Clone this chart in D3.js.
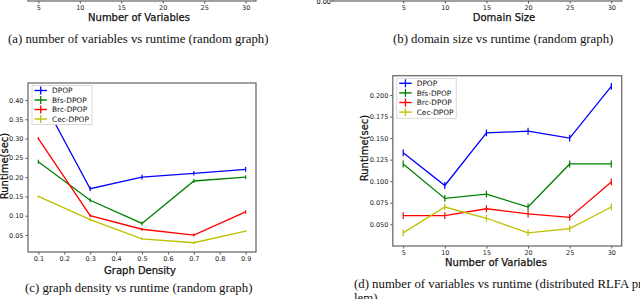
<!DOCTYPE html>
<html>
<head>
<meta charset="utf-8">
<script src="https://cdn.jsdelivr.net/npm/d3@7"></script>
<style>
  body { margin: 0; background: #fff; }
  svg { display: block; }
  .tick text { font-family: "DejaVu Sans", sans-serif; font-size: 6.5px; fill: #222; }
  .tick line { stroke: #555; }
  .domain { display: none; }
</style>
</head>
<body>
<svg id="chart" width="640" height="299"></svg>
<script>
// 数据
var seriesNames = ["DPOP", "Bfs-DPOP", "Brc-DPOP", "Cec-DPOP"];
var colors = ["#0000ff", "#008000", "#ff0000", "#bfbf00"];

// (c) graph density
var densityX = [0.1, 0.3, 0.5, 0.7, 0.9];
var densityDPOP = [0.42, 0.17, 0.20, 0.21, 0.22];
var densityBfs = [0.24, 0.14, 0.08, 0.19, 0.20];
var densityBrc = [0.30, 0.10, 0.065, 0.05, 0.11];
var densityCec = [0.15, 0.09, 0.04, 0.03, 0.06];
var densityErr = [0.006, 0.005, 0.004, 0.003];
var densityYTicks = [0.05, 0.10, 0.15, 0.20, 0.25, 0.30, 0.35, 0.40];
var densityXTicks = [0.1, 0.2, 0.3, 0.4, 0.5, 0.6, 0.7, 0.8, 0.9];

// (d) distributed RLFA
var varsX = [5, 10, 15, 20, 25, 30];
var rlfaDPOP = [0.133, 0.095, 0.156, 0.158, 0.150, 0.210];
var rlfaBfs = [0.120, 0.080, 0.085, 0.070, 0.120, 0.120];
var rlfaBrc = [0.060, 0.060, 0.068, 0.062, 0.058, 0.099];
var rlfaCec = [0.040, 0.070, 0.057, 0.040, 0.045, 0.070];
var rlfaErr = [0.004, 0.004, 0.004, 0.004];
var rlfaYTicks = [0.050, 0.075, 0.100, 0.125, 0.150, 0.175, 0.200];

// (a)(b) 只剩下 x 轴
var topXTicks = [5, 10, 15, 20, 25, 30];

var svg = d3.select("#chart");

function frame(g, x0, y0, x1, y1) {
    g.append("rect")
        .attr("x", x0).attr("y", y0)
        .attr("width", x1 - x0).attr("height", y1 - y0)
        .attr("fill", "none")
        .attr("stroke", "#6e6e6e")
        .attr("stroke-width", 1.3);
}

function label(x, y, txt, size, rotate) {
    var t = svg.append("text")
        .attr("x", x).attr("y", y)
        .attr("text-anchor", "middle")
        .attr("font-family", "DejaVu Sans, sans-serif")
        .attr("font-size", size)
        .attr("fill", "#111")
        .attr("stroke", "#111")
        .attr("stroke-width", 0.25)
        .text(txt);
    if (rotate) t.attr("transform", "rotate(-90," + x + "," + y + ")");
    return t;
}

function caption(x, y, txt) {
    svg.append("text")
        .attr("x", x).attr("y", y)
        .attr("font-family", "Liberation Serif, Times New Roman, serif")
        .attr("font-size", 12.8)
        .attr("fill", "#111")
        .text(txt);
}

// ---- (a) ----
var xa = d3.scaleLinear().domain([3.75, 31.25]).range([28, 256]);
var ga = svg.append("g");
frame(ga, 28, -60, 256, 1);
ga.append("g").attr("transform", "translate(0,1)")
    .call(d3.axisBottom(xa).tickValues(topXTicks).tickSize(2.5).tickPadding(1.5));
label(139, 20.5, "Number of Variables", 10);
caption(8, 43, "(a) number of variables vs runtime (random graph)");

// ---- (b) ----
var xb = d3.scaleLinear().domain([3.75, 31.25]).range([392.8, 621.7]);
var gb = svg.append("g");
frame(gb, 333, -60, 621.7, 1);
gb.append("g").attr("transform", "translate(0,1)")
    .call(d3.axisBottom(xb).tickValues(topXTicks).tickSize(2.5).tickPadding(1.5));
svg.append("text").attr("x", 331).attr("y", 3.5)
    .attr("text-anchor", "end")
    .attr("font-family", "DejaVu Sans, sans-serif")
    .attr("font-size", 6.5).text("0.00");
svg.append("line").attr("x1", 330.5).attr("x2", 333).attr("y1", 1).attr("y2", 1).attr("stroke", "#555");
label(504, 20.5, "Domain Size", 10);
caption(393, 43, "(b) domain size vs runtime (random graph)");

// 画一张图
function panel(opt) {
    var g = svg.append("g");
    var x = d3.scaleLinear().domain(opt.xDomain).range([opt.left, opt.right]);
    var y = d3.scaleLinear().domain(opt.yDomain).range([opt.bottom, opt.top]);

    g.append("g").attr("transform", "translate(0," + opt.bottom + ")")
        .call(d3.axisBottom(x).tickValues(opt.xTicks).tickSize(2.5).tickPadding(2)
            .tickFormat(opt.xFormat));
    g.append("g").attr("transform", "translate(" + opt.left + ",0)")
        .call(d3.axisLeft(y).tickValues(opt.yTicks).tickSize(2.5).tickPadding(2)
            .tickFormat(opt.yFormat));

    g.append("clipPath").attr("id", opt.id)
        .append("rect").attr("x", opt.left).attr("y", opt.top)
        .attr("width", opt.right - opt.left).attr("height", opt.bottom - opt.top);

    var line = d3.line()
        .x(function (d, i) { return x(opt.xs[i]); })
        .y(function (d) { return y(d); });

    var plot = g.append("g").attr("clip-path", "url(#" + opt.id + ")");
    opt.series.forEach(function (s, k) {
        plot.append("path")
            .attr("d", line(s))
            .attr("fill", "none")
            .attr("stroke", colors[k])
            .attr("stroke-width", 1.3);
        plot.selectAll(null).data(s).enter().append("line")
            .attr("x1", function (d, i) { return x(opt.xs[i]); })
            .attr("x2", function (d, i) { return x(opt.xs[i]); })
            .attr("y1", function (d) { return y(d - opt.err[k]); })
            .attr("y2", function (d) { return y(d + opt.err[k]); })
            .attr("stroke", colors[k])
            .attr("stroke-width", 1.2);
    });

    frame(g, opt.left, opt.top, opt.right, opt.bottom);

    // 图例
    var L = opt.legend;
    g.append("rect")
        .attr("x", L.x).attr("y", L.y).attr("width", L.w).attr("height", L.h)
        .attr("fill", "#fff").attr("stroke", "#d0d0d0").attr("stroke-width", 0.8);
    seriesNames.forEach(function (name, k) {
        var yy = L.y + 5 + k * L.step;
        g.append("line").attr("x1", L.x + 2.5).attr("x2", L.x + 15)
            .attr("y1", yy).attr("y2", yy)
            .attr("stroke", colors[k]).attr("stroke-width", 1.4);
        g.append("line").attr("x1", L.x + 8.75).attr("x2", L.x + 8.75)
            .attr("y1", yy - 4).attr("y2", yy + 4)
            .attr("stroke", colors[k]).attr("stroke-width", 1.3);
        g.append("text").attr("x", L.x + 20).attr("y", yy + 2.7)
            .attr("font-family", "DejaVu Sans, sans-serif")
            .attr("font-size", 7.4).attr("fill", "#111")
            .text(name);
    });
}

// ---- (c) ----
panel({
    id: "clipc",
    left: 28, right: 256, top: 83, bottom: 252,
    xDomain: [0.06, 0.94], yDomain: [0.006, 0.444],
    xTicks: densityXTicks, yTicks: densityYTicks,
    xFormat: d3.format(".1f"), yFormat: d3.format(".2f"),
    xs: densityX,
    series: [densityDPOP, densityBfs, densityBrc, densityCec],
    err: densityErr,
    legend: { x: 32, y: 85.5, w: 60, h: 39, step: 9.5 }
});
label(7.5, 166, "Runtime(sec)", 10, true);
label(140, 273.5, "Graph Density", 10);
caption(25, 292, "(c) graph density vs runtime (random graph)");

// ---- (d) ----
panel({
    id: "clipd",
    left: 392.8, right: 621.7, top: 75.7, bottom: 246,
    xDomain: [3.75, 31.25], yDomain: [0.0248, 0.2224],
    xTicks: varsX, yTicks: rlfaYTicks,
    xFormat: d3.format("d"), yFormat: d3.format(".3f"),
    xs: varsX,
    series: [rlfaDPOP, rlfaBfs, rlfaBrc, rlfaCec],
    err: rlfaErr,
    legend: { x: 396.7, y: 78.3, w: 59.5, h: 40, step: 9.6 }
});
label(367.5, 148, "Runtime(sec)", 10, true);
label(496, 266, "Number of Variables", 10);
caption(354, 288, "(d) number of variables vs runtime (distributed RLFA pro-");
caption(354, 301.5, "lem)");
</script>
</body>
</html>
